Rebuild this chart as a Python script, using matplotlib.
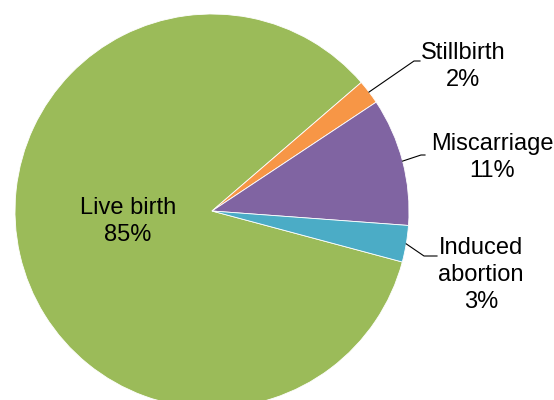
import numpy as np
import matplotlib
matplotlib.use("Agg")
import matplotlib.pyplot as plt

# data (clockwise order, starting at the live birth / induced abortion edge)
categories = ["Live birth", "Stillbirth", "Miscarriage", "Induced abortion"]
shares = [84.6, 2.0, 10.5, 3.0]
label_text = ["Live birth\n85%", "Stillbirth\n2%", "Miscarriage\n11%", "Induced\nabortion\n3%"]
colors = ["#9BBB59", "#F79646", "#8064A2", "#4BACC6"]

plt.rcParams["font.family"] = ["Liberation Sans", "DejaVu Sans"]

W, H = 554, 400
fig = plt.figure(figsize=(W / 100, H / 100), dpi=100)
ax = fig.add_axes([0, 0, 1, 1])

cx, cy, r = 212, H - 211, 197
wedges, _ = ax.pie(shares, colors=colors, startangle=-15.0, counterclock=False,
                   center=(cx, cy), radius=r,
                   wedgeprops=dict(edgecolor="white", linewidth=0.6))
ax.set_xlim(0, W)
ax.set_ylim(0, H)
ax.set_aspect("equal")
ax.axis("off")

fs = 17
ls = 1.28
# inside label for live birth
ax.text(128, H - 221.5, label_text[0], ha="center", va="center", fontsize=fs,
        linespacing=ls)

# outside labels with leader lines: (text x, text y, elbow x, elbow y, end x)
outside = {
    1: (463, 66.7, 414, 61, 420),
    2: (492, 157.5, 421, 155, 425),
    3: (481, 275, 424, 256, 437),
}
for i, (tx, ty, ex, ey, endx) in outside.items():
    w = wedges[i]
    mid = np.deg2rad((w.theta1 + w.theta2) / 2)
    px, py = cx + r * np.cos(mid), cy + r * np.sin(mid)
    ax.plot([px, ex, endx], [py, H - ey, H - ey], color="black", lw=0.8)
    ax.text(tx, H - ty, label_text[i], ha="center", va="center", fontsize=fs,
            linespacing=ls)

fig.savefig("out.png", dpi=100)
